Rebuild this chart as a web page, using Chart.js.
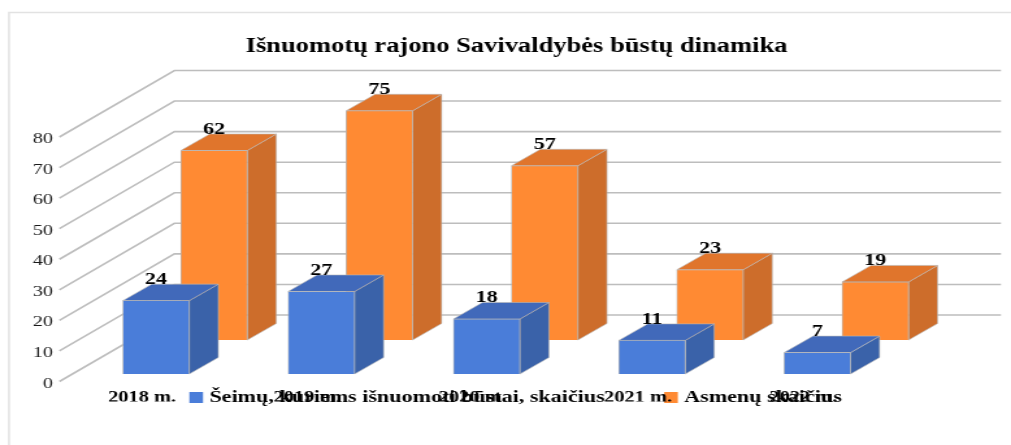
<!DOCTYPE html>
<html><head><meta charset="utf-8">
<style>
html,body{margin:0;padding:0;background:#fff;overflow:hidden}
#c{display:block;width:1011px!important;height:445px!important;filter:blur(0.35px)}
</style>
<script src="https://cdn.jsdelivr.net/npm/chart.js@4"></script>
</head><body>
<canvas id="c" width="778" height="445"></canvas>
<script>
const chartTitle = "Išnuomotų rajono Savivaldybės būstų dinamika";
const categories = ["2018 m.", "2019 m.", "2020 m.", "2021 m.", "2022 m."];
const families = [24, 27, 18, 11, 7];
const persons = [62, 75, 57, 23, 19];
const familyLabel = "Šeimų, kuriems išnuomoti būstai, skaičius";
const personLabel = "Asmenų skaičius";

const K = 778 / 1011;            // the picture is horizontally stretched
const SERIF = "'Liberation Serif','Times New Roman',serif";
const wall = {dx: 115 * K, dy: -66.5, right: 1001 * K};
const depth = {dx: 29 * K, dy: -16.5};
const shift = [{dx: 14 * K, dy: -7.5}, {dx: 72 * K, dy: -41.5}];
const faces = [
  {front: '#4A7DD9', top: '#4169BA', side: '#3A62A9'},
  {front: '#FF8A33', top: '#E0752C', side: '#CD6D2B'}
];

const frame3d = {
  id: 'frame3d',
  beforeLayout(chart) {
    const lg = chart.legend;
    if (lg && !lg._wrapped) {
      const fit = lg.fit;
      lg.fit = function () { fit.call(this); this.height = 20; };
      lg._wrapped = true;
    }
  },
  afterLayout(chart) {
    const lg = chart.legend;
    lg.left = 0; lg.right = 518 * K * 2; lg.top = 397.5 - 49.4 - 8.5;
    const t = chart.titleBlock;
    t.left = 0; t.right = 516.5 * K * 2;
    const ys = chart.scales.y;
    if (!ys._nudged) {
      const d = ys.drawLabels;
      ys.drawLabels = function (a) {
        const c = this.ctx; c.save(); c.translate(0, 2); d.call(this, a); c.restore();
      };
      ys._nudged = true;
    }
  },
  beforeDatasetsDraw(chart) {
    const c = chart.ctx, y = chart.scales.y, left = chart.scales.x.left;
    c.save();
    c.strokeStyle = '#E2E2E2'; c.lineWidth = 1.5;
    c.beginPath();
    c.moveTo(9 * K, 445); c.lineTo(9 * K, 12.5); c.lineTo(chart.width, 12.5);
    c.stroke();
    c.strokeStyle = '#BDBDBD'; c.lineWidth = 1.6;
    y.ticks.forEach(t => {
      const p = y.getPixelForValue(t.value);
      c.beginPath();
      c.moveTo(left, p);
      c.lineTo(left + wall.dx, p + wall.dy);
      c.lineTo(wall.right, p + wall.dy);
      c.stroke();
    });
    c.restore();
  },
  beforeDatasetDraw(chart, args) {
    const c = chart.ctx, i = args.index, f = faces[i];
    c.save();
    c.translate(shift[i].dx, shift[i].dy);
    args.meta.data.forEach(el => {
      const {x, y, base, width} = el.getProps(['x', 'y', 'base', 'width'], true);
      const l = x - width / 2, r = x + width / 2;
      c.fillStyle = f.side;
      c.strokeStyle = '#B9B9B9'; c.lineWidth = 0.6;
      c.beginPath();
      c.moveTo(r, y); c.lineTo(r + depth.dx, y + depth.dy);
      c.lineTo(r + depth.dx, base + depth.dy); c.lineTo(r, base); c.closePath();
      c.fill(); c.stroke();
      c.fillStyle = f.top;
      c.beginPath();
      c.moveTo(l, y); c.lineTo(l + depth.dx, y + depth.dy);
      c.lineTo(r + depth.dx, y + depth.dy); c.lineTo(r, y); c.closePath();
      c.fill(); c.stroke();
    });
  },
  afterDatasetDraw(chart) { chart.ctx.restore(); },
  afterDatasetsDraw(chart) {
    const c = chart.ctx;
    c.save();
    c.fillStyle = '#000';
    c.font = "bold 17px " + SERIF;
    c.textAlign = 'center'; c.textBaseline = 'middle';
    chart.data.datasets.forEach((ds, i) => {
      chart.getDatasetMeta(i).data.forEach((el, j) => {
        c.fillText(String(ds.data[j]), el.x + shift[i].dx, el.y + shift[i].dy - 21);
      });
    });
    c.restore();
  }
};

new Chart(document.getElementById('c'), {
  type: 'bar',
  data: {
    labels: categories,
    datasets: [
      {label: familyLabel, data: families, backgroundColor: faces[0].front, borderColor: '#B5B5B5', borderWidth: 0.8, grouped: false, barThickness: 66.5 * K, clip: false},
      {label: personLabel, data: persons, backgroundColor: faces[1].front, borderColor: '#B5B5B5', borderWidth: 0.8, grouped: false, barThickness: 66.5 * K, clip: false}
    ]
  },
  options: {
    responsive: false,
    animation: false,
    devicePixelRatio: 1,
    layout: {padding: {left: 0, right: 778 - 886 * K, top: 0, bottom: 23.5}},
    plugins: {
      tooltip: {enabled: false},
      title: {
        display: true, text: chartTitle, color: '#000',
        font: {family: SERIF, size: 20.4, weight: 'bold'},
        padding: {top: 34.26, bottom: 78.26}
      },
      legend: {
        position: 'bottom',
        labels: {
          color: '#000', boxWidth: 3.3, boxHeight: 3.8, padding: 49.4,
          font: {family: SERIF, size: 17, weight: 'bold'},
          generateLabels(chart) {
            return Chart.defaults.plugins.legend.labels.generateLabels(chart).map(it => ({
              ...it, strokeStyle: it.fillStyle, lineWidth: 7.2, lineJoin: 'miter', lineCap: 'butt', lineDash: []
            }));
          }
        }
      }
    },
    scales: {
      x: {
        offset: true,
        grid: {display: false, drawTicks: false}, border: {display: false},
        afterFit(s) { s.height = 20; },
        ticks: {color: '#000', padding: 7.5, maxRotation: 0, autoSkip: false,
                font: {family: SERIF, size: 15.7, weight: 'bold'}}
      },
      y: {
        min: 0, max: 80,
        grid: {display: false, drawTicks: false}, border: {display: false},
        afterFit(s) { s.width = 59.4 * K; },
        ticks: {stepSize: 10, color: '#1a1a1a', padding: 5,
                font: {family: SERIF, size: 15.5}}
      }
    }
  },
  plugins: [frame3d]
});
</script>
</body></html>
